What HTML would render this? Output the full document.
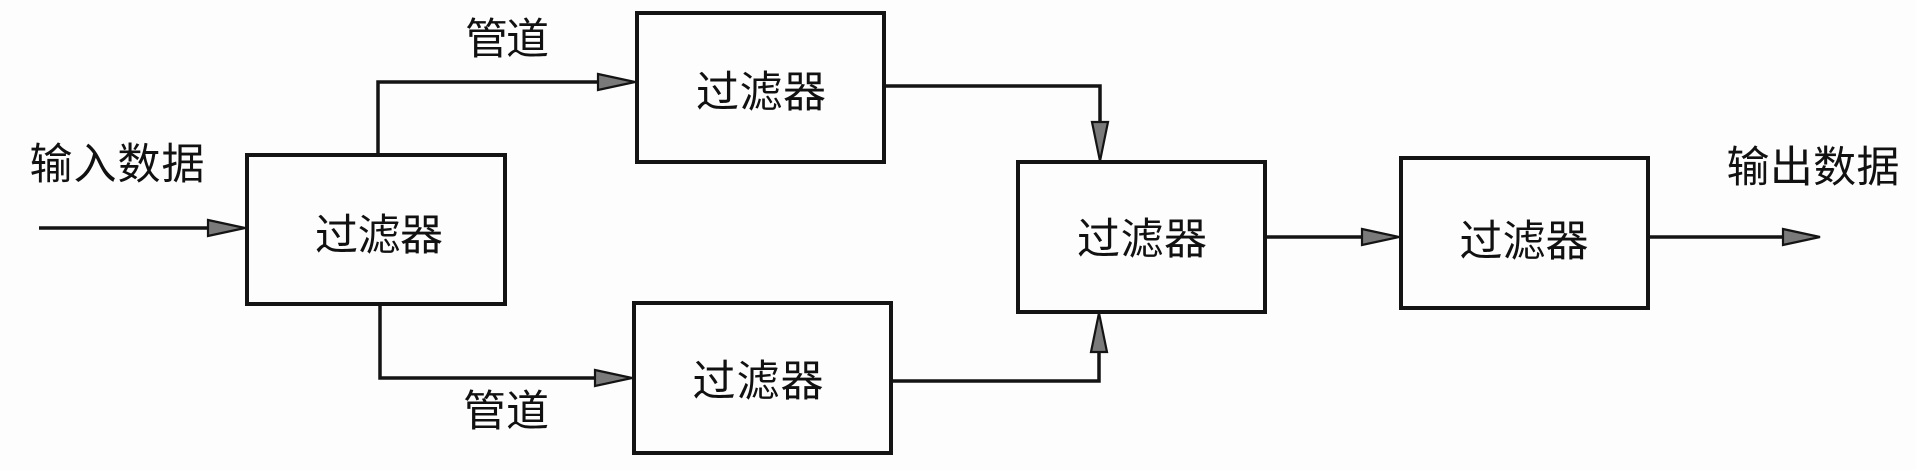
<!DOCTYPE html>
<html>
<head>
<meta charset="utf-8">
<style>
  html,body{margin:0;padding:0;background:#fff;}
  svg{display:block;}
  text{font-family:"Liberation Sans","Noto Sans CJK SC",sans-serif;font-size:43px;fill:#111;}
</style>
</head>
<body>
<svg width="1916" height="470" viewBox="0 0 1916 470" xmlns="http://www.w3.org/2000/svg">
  <rect width="1916" height="470" fill="#fdfdfd"/>
  <g fill="none" stroke="#141414" stroke-width="4">
    <rect x="247" y="155" width="258" height="149"/>
    <rect x="637" y="13" width="247" height="149"/>
    <rect x="634" y="303" width="257" height="150"/>
    <rect x="1018" y="162" width="247" height="150"/>
    <rect x="1401" y="158" width="247" height="150"/>
  </g>
  <g fill="none" stroke="#141414" stroke-width="3.5">
    <line x1="39" y1="228" x2="210" y2="228"/>
    <polyline points="378,155 378,82 600,82"/>
    <polyline points="380,304 380,378 597,378"/>
    <polyline points="884,86 1100,86 1100,124"/>
    <polyline points="891,381 1099,381 1099,350"/>
    <line x1="1265" y1="237" x2="1364" y2="237"/>
    <line x1="1648" y1="237" x2="1785" y2="237"/>
  </g>
  <g fill="#7a7a7a" stroke="#141414" stroke-width="2.2" stroke-linejoin="miter">
    <polygon points="208,220 245,228 208,236"/>
    <polygon points="598,74 635,82 598,90"/>
    <polygon points="595,370 632,378 595,386"/>
    <polygon points="1092,122 1100,161 1108,122"/>
    <polygon points="1091,352 1099,313 1107,352"/>
    <polygon points="1362,229 1399,237 1362,245"/>
    <polygon points="1783,229 1820,237 1783,245"/>
  </g>
  <g text-anchor="middle" dominant-baseline="central">
    <text x="117" y="165" textLength="175">输入数据</text>
    <text x="1813" y="168" textLength="173">输出数据</text>
    <text x="507" y="40" textLength="84">管道</text>
    <text x="506" y="412" textLength="86">管道</text>
    <text x="379" y="236" textLength="128">过滤器</text>
    <text x="761" y="93" textLength="130">过滤器</text>
    <text x="758" y="382" textLength="131">过滤器</text>
    <text x="1142" y="240" textLength="130">过滤器</text>
    <text x="1524" y="242" textLength="129">过滤器</text>
  </g>
</svg>
</body>
</html>
